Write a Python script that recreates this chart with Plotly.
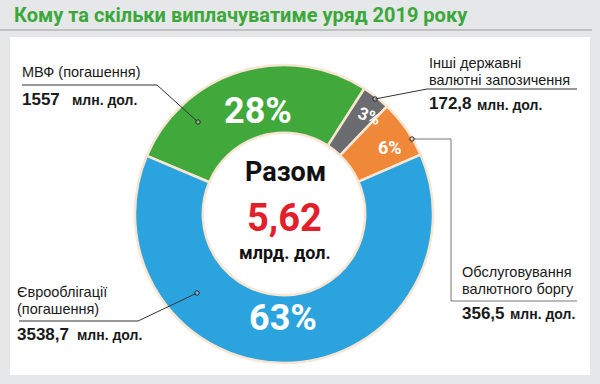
import math
import plotly.graph_objects as go

# ---- data ----
categories = ["МВФ (погашення)", "Інші державні валютні запозичення",
              "Обслуговування валютного боргу", "Єврооблігації (погашення)"]
values = [1557, 172.8, 356.5, 3538.7]
value_labels = ["1557", "172,8", "356,5", "3538,7"]
unit_label = "млн. дол."
total_word = "Разом"
total_label = "5,62"
total_unit = "млрд. дол."
title = "Кому та скільки виплачуватиме уряд 2019 року"

colors = ["#41a83c", "#6b6c6f", "#f0883a", "#2aa3de"]

W, H = 600, 384
def px(x):
    return x / W
def py(y):
    return 1 - y / H

# donut geometry (pixels)
CX, CY, R = 284, 214, 149
HOLE = 0.545
ROT = -67

fig = go.Figure()
fig.add_trace(go.Pie(
    labels=categories, values=values, sort=False, direction="clockwise",
    rotation=ROT, hole=HOLE, textinfo="none", hoverinfo="label+value",
    marker=dict(colors=colors, line=dict(color="#f9e6d2", width=2.5)),
    domain=dict(x=[px(CX - R), px(CX + R)], y=[py(CY + R), py(CY - R)]),
    showlegend=False,
))

COND = "Roboto, Liberation Sans, sans-serif"
REG = "Liberation Sans, Arial, sans-serif"

ann = []
shapes = []

# panel
shapes.append(dict(type="rect", xref="paper", yref="paper", x0=px(10), x1=px(590),
                   y0=py(375), y1=py(37), fillcolor="white", line=dict(width=0), layer="below"))
shapes.append(dict(type="line", xref="paper", yref="paper", x0=0, x1=px(592),
                   y0=py(30), y1=py(30), line=dict(color="#9b9b9b", width=1)))
ann.append(dict(x=px(12), y=py(15), text="<b>" + title + "</b>", showarrow=False,
                xanchor="left", yanchor="middle",
                font=dict(family=COND, size=20, color="#3aa83a")))

# percent labels computed from data
total = sum(values)
label_r = [0.71, 0.87, 0.84, 0.70]
label_da = [3, 3, 3, 1]
label_size = [36, 17, 18, 36]
label_rot = [0, 20, 0, 0]
start = ROT
for v, rr, da, fs, rt in zip(values, label_r, label_da, label_size, label_rot):
    span = v / total * 360
    mid = math.radians(start + span / 2 + da)
    start += span
    x = CX + R * rr * math.sin(mid)
    y = CY - R * rr * math.cos(mid)
    ann.append(dict(x=px(x), y=py(y), text="<b>%d%%</b>" % round(v / total * 100),
                    showarrow=False, xanchor="center", yanchor="middle", textangle=rt,
                    font=dict(family=COND, size=fs, color="white")))

# center text
ann.append(dict(x=px(285), y=py(172), text="<b>" + total_word + "</b>", showarrow=False,
                font=dict(family=COND, size=27, color="#111")))
ann.append(dict(x=px(284), y=py(218), text="<b>" + total_label + "</b>", showarrow=False,
                font=dict(family=COND, size=38, color="#e2202a")))
ann.append(dict(x=px(285), y=py(265), text="<b>" + total_unit + "</b>", showarrow=False,
                font=dict(family=COND, size=18, color="#111")))

def text(x, y, t, size=14.5, bold=False):
    ann.append(dict(x=px(x), y=py(y), text=("<b>%s</b>" % t) if bold else t, showarrow=False,
                    xanchor="left", yanchor="middle",
                    font=dict(family=REG, size=size, color="#1a1a1a")))

def line(x0, y0, x1, y1, color="#333", w=1):
    shapes.append(dict(type="line", xref="paper", yref="paper", x0=px(x0), y0=py(y0),
                       x1=px(x1), y1=py(y1), line=dict(color=color, width=w)))

def dot(x, y):
    shapes.append(dict(type="circle", xref="paper", yref="paper", x0=px(x - 2.2), x1=px(x + 2.2),
                       y0=py(y + 2.2), y1=py(y - 2.2), fillcolor="rgba(255,255,255,0.4)",
                       line=dict(color="#222", width=1)))

# МВФ
text(20, 72, categories[0])
line(22, 85, 157, 85)
line(157, 85, 198, 122)
dot(198, 122)
text(20, 99, value_labels[0], 17, True)
text(70, 100, unit_label, 14, True)

# Інші
text(427, 63, "Інші державні")
text(427, 80, "валютні запозичення")
line(427, 89, 577, 89)
line(427, 89, 375, 99)
dot(375, 99)
text(427, 104, value_labels[1], 17, True)
text(475, 105, unit_label, 14, True)

# Обслуговування
line(412, 139, 451, 139, "#777")
line(451, 139, 451, 301, "#777")
line(451, 301, 577, 301, "#777")
dot(412, 139)
text(460, 272, "Обслуговування")
text(460, 289, "валютного боргу")
text(460, 313, value_labels[2], 17, True)
text(508, 314, unit_label, 14, True)

# Єврооблігації
text(15, 292, "Єврооблігації")
text(15, 309, "(погашення)")
line(19, 321, 138, 321)
line(138, 321, 197, 293)
dot(197, 293)
text(15, 334, value_labels[3], 17, True)
text(75, 335, unit_label, 14, True)

fig.update_layout(width=W, height=H, margin=dict(l=0, r=0, t=0, b=0),
                  paper_bgcolor="#e6e7e8", plot_bgcolor="#e6e7e8",
                  annotations=ann, shapes=shapes)
fig.write_html("out.html", config={"displayModeBar": False},
               post_script="document.body.style.margin='0';")
